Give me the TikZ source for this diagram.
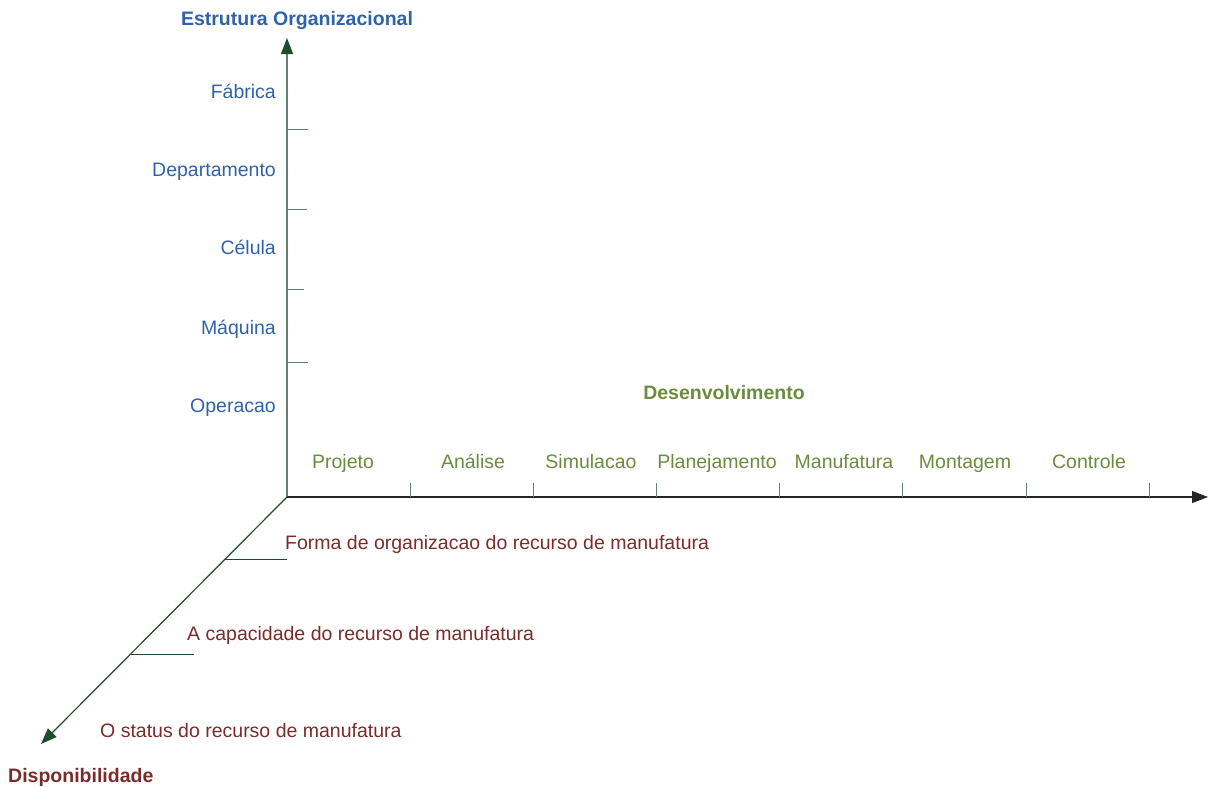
\documentclass[tikz,border=0pt]{standalone}
\usepackage{fontspec}
\setmainfont{Liberation Sans}
\usepackage{tikz}
\usetikzlibrary{arrows.meta,positioning}
\definecolor{orgblue}  {HTML}{2F62AA}
\definecolor{devgreen} {HTML}{6B8C3C}
\definecolor{dispred}  {HTML}{7A2C2A}
\definecolor{axisgreen}{HTML}{1E4D2B}
\definecolor{tickgreen}{HTML}{5F8272}

\begin{document}
\begin{tikzpicture}[
  x=1pt, y=-1pt,
  txt/.style  ={inner sep=0pt,font=\fontsize{19.5}{23}\selectfont},
  ttl/.style  ={txt,font=\fontsize{19.5}{23}\selectfont\bfseries},
  ylbl/.style ={txt,anchor=base east,text=orgblue},
  xlbl/.style ={txt,anchor=base,text=devgreen},
  dlbl/.style ={txt,anchor=base west,text=dispred},
  axis/.style ={line width=1.2pt,-{Triangle[length=16pt,width=12pt]}},
  tick/.style ={line width=1pt,color=tickgreen}
]
\useasboundingbox (0,0) rectangle (1208,787);
%% Origin and axis ends
\coordinate (o)    at (287,497);
\coordinate (ytip) at (287,38);
\coordinate (xtip) at (1208,497);
\coordinate (dtip) at (41,744);
%% Axes
\draw[axis,color=tickgreen,{Triangle[length=16pt,width=12pt,fill=axisgreen,color=axisgreen]}-] (ytip) -- (o);
\draw[axis,color=black!85] (o) -- (xtip);
\draw[axis,color=axisgreen] (o) -- (dtip);
%% Ticks on the vertical axis
\foreach \y/\l in {129/21,209/20,289/17,362/21}
  \draw[tick] (287,\y) coordinate (yt) -- ++(\l,0);
%% Ticks on the horizontal axis
\foreach \x in {410,533,656,779,902,1026,1149}
  \draw[tick] (\x,497) coordinate (xt) -- ++(0,-14);
%% Ticks on the diagonal axis
\coordinate (d1) at (225,559);
\coordinate (d2) at (130,654);
\draw[tick,color=axisgreen] (d1) -- ++(62,0);
\draw[tick,color=axisgreen] (d2) -- ++(64,0);
%% Axis titles
\node[ttl,anchor=base,text=orgblue]  (org) at (297,25)  {Estrutura Organizacional};
\node[ttl,anchor=base,text=devgreen] (dev) at (724,399) {Desenvolvimento};
\node[ttl,anchor=base west,text=dispred] (disp) at (8,782) {Disponibilidade};
%% Organizational levels
\node[ylbl] (fab)  at (276,98)  {Fábrica};
\node[ylbl] (dep)  at (276,176) {Departamento};
\node[ylbl] (cel)  at (276,254) {Célula};
\node[ylbl] (maq)  at (276,334) {Máquina};
\node[ylbl] (oper) at (276,412) {Operacao};
%% Development phases
\node[xlbl] (proj)  at (343,468)  {Projeto};
\node[xlbl] (anal)  at (473,468)  {Análise};
\node[xlbl] (sim)   at (591,468)  {Simulacao};
\node[xlbl] (plan)  at (717,468)  {Planejamento};
\node[xlbl] (manu)  at (844,468)  {Manufatura};
\node[xlbl] (mont)  at (965,468)  {Montagem};
\node[xlbl] (ctrl)  at (1089,468) {Controle};
%% Availability
\node[dlbl] (forma)  at (285,549) {Forma de organizacao do recurso de manufatura};
\node[dlbl] (capac)  at (187,640) {A capacidade do recurso de manufatura};
\node[dlbl] (status) at (100,737) {O status do recurso de manufatura};
\end{tikzpicture}
\end{document}
